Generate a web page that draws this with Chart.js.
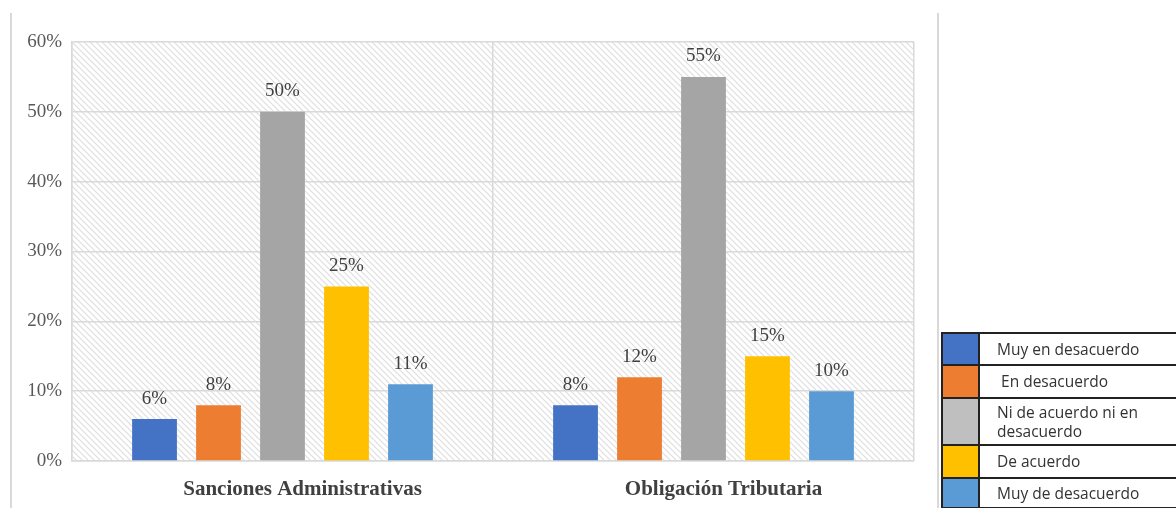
<!DOCTYPE html>
<html lang="es">
<head>
<meta charset="utf-8">
<title>Sanciones Administrativas / Obligación Tributaria</title>
<script src="https://cdn.jsdelivr.net/npm/chart.js@4.4.1/dist/chart.umd.min.js"></script>
<style>
    html, body { margin: 0; padding: 0; background: #ffffff; }
    #wrap { position: relative; width: 1176px; height: 508px; overflow: hidden; }
    #legendBox {
        position: absolute; left: 941px; top: 332px; width: 250px;
        border-collapse: collapse; font-family: "Open Sans", sans-serif;
        font-size: 15.5px; color: #333333;
    }
    #legendBox td { border: 2px solid #222222; padding: 0; }
    #legendBox td.sw { width: 35px; }
    #legendBox td.txt { padding-left: 17px; line-height: 19px; }
</style>
</head>
<body>
<div id="wrap">
    <canvas id="chart" width="1176" height="508"></canvas>
    <table id="legendBox"></table>
</div>
<script>
// Données du graphique
const categories = ['Sanciones Administrativas', 'Obligación Tributaria'];
const seriesNames = ['Muy en desacuerdo', 'En desacuerdo', 'Ni de acuerdo ni en desacuerdo', 'De acuerdo', 'Muy de desacuerdo'];
const muyEnDesacuerdo = [6, 8];
const enDesacuerdo = [8, 12];
const niDeAcuerdo = [50, 55];
const deAcuerdo = [25, 15];
const muyDeDesacuerdo = [11, 10];
const yTicks = [0, 10, 20, 30, 40, 50, 60];

const barColors = ['#4472C4', '#ED7D31', '#A5A5A5', '#FFC000', '#5B9BD5'];
const legendColors = ['#4472C4', '#ED7D31', '#BFBFBF', '#FFC000', '#5B9BD5'];
const legendHeights = [32, 33, 47, 33, 30];

document.addEventListener('DOMContentLoaded', function() {
    initLegend();
    initChart();
});

/**
 * Légende en tableau (coin inférieur droit)
 */
function initLegend() {
    const table = document.getElementById('legendBox');
    seriesNames.forEach(function(name, i) {
        const tr = document.createElement('tr');
        tr.style.height = legendHeights[i] + 'px';
        const sw = document.createElement('td');
        sw.className = 'sw';
        sw.style.background = legendColors[i];
        const txt = document.createElement('td');
        txt.className = 'txt';
        if (i === 2) {
            txt.innerHTML = 'Ni de acuerdo ni en<br>desacuerdo';
        } else {
            txt.textContent = (i === 1 ? '\u00a0' : '') + name;
        }
        tr.appendChild(sw);
        tr.appendChild(txt);
        table.appendChild(tr);
    });
}

/**
 * Motif hachuré du fond
 */
function makeHatch() {
    const c = document.createElement('canvas');
    c.width = 6;
    c.height = 6;
    const g = c.getContext('2d');
    g.fillStyle = '#ffffff';
    g.fillRect(0, 0, 6, 6);
    g.strokeStyle = '#dedede';
    g.lineWidth = 1.2;
    g.beginPath();
    g.moveTo(-1, -1); g.lineTo(7, 7);
    g.moveTo(-4, 2); g.lineTo(1, 7);
    g.moveTo(2, -4); g.lineTo(7, 1);
    g.stroke();
    return g.createPattern(c, 'repeat');
}

function initChart() {
    const ctx = document.getElementById('chart');
    const hatch = makeHatch();
    const serif = '"Liberation Serif", "Times New Roman", serif';

    const backgroundPlugin = {
        id: 'hatchBackground',
        beforeDraw: function(chart) {
            const a = chart.chartArea;
            const g = chart.ctx;
            g.save();
            g.fillStyle = hatch;
            g.fillRect(a.left, a.top, a.right - a.left, a.bottom - a.top);
            // Lignes verticales du cadre extérieur
            g.strokeStyle = '#d9d9d9';
            g.lineWidth = 2;
            g.beginPath();
            g.moveTo(11, 13); g.lineTo(11, 508);
            g.moveTo(938, 13); g.lineTo(938, 508);
            g.stroke();
            g.restore();
        }
    };

    const valueLabels = {
        id: 'valueLabels',
        afterDatasetsDraw: function(chart) {
            const g = chart.ctx;
            g.save();
            g.font = '19px ' + serif;
            g.fillStyle = '#404040';
            g.textAlign = 'center';
            g.textBaseline = 'bottom';
            chart.data.datasets.forEach(function(ds, i) {
                chart.getDatasetMeta(i).data.forEach(function(bar, j) {
                    g.fillText(ds.data[j] + '%', bar.x, bar.y - 11);
                });
            });
            g.restore();
        }
    };

    const series = [muyEnDesacuerdo, enDesacuerdo, niDeAcuerdo, deAcuerdo, muyDeDesacuerdo];

    new Chart(ctx, {
        type: 'bar',
        data: {
            labels: categories,
            datasets: series.map(function(values, i) {
                return {
                    label: seriesNames[i],
                    data: values,
                    backgroundColor: barColors[i],
                    borderWidth: 0,
                    barPercentage: 0.70,
                    categoryPercentage: 0.76
                };
            })
        },
        options: {
            responsive: false,
            animation: false,
            layout: { padding: { top: 42, right: 262, left: 0, bottom: 0 } },
            plugins: {
                legend: { display: false },
                tooltip: { enabled: false }
            },
            scales: {
                x: {
                    grid: { color: '#d9d9d9', lineWidth: 1.5, drawTicks: false, offset: true },
                    border: { color: '#d9d9d9', width: 1.5 },
                    ticks: {
                        padding: 16,
                        labelOffset: 20,
                        color: '#404040',
                        font: { family: serif, size: 21, weight: 'bold' }
                    },
                    afterFit: function(scale) { scale.height = 47; }
                },
                y: {
                    min: 0,
                    max: 60,
                    afterBuildTicks: function(scale) {
                        scale.ticks = yTicks.map(function(v) { return { value: v }; });
                    },
                    grid: { color: '#d9d9d9', lineWidth: 1.5, drawTicks: false },
                    border: { color: '#d9d9d9', width: 1.5 },
                    ticks: {
                        padding: 10,
                        color: '#595959',
                        font: { family: serif, size: 19 },
                        callback: function(v) { return v + '%'; }
                    },
                    afterFit: function(scale) { scale.width = 72; }
                }
            }
        },
        plugins: [backgroundPlugin, valueLabels]
    });
}
</script>
</body>
</html>
